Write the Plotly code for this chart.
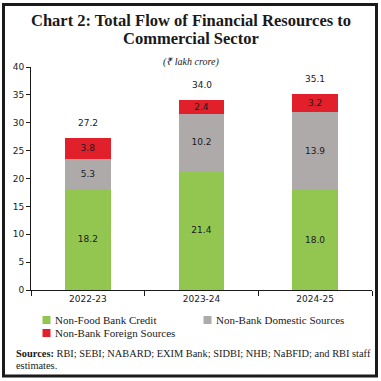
import plotly.graph_objects as go

categories = ["2022-23", "2023-24", "2024-25"]
non_food_bank_credit = [18.2, 21.4, 18.0]
non_bank_domestic = [5.3, 10.2, 13.9]
non_bank_foreign = [3.8, 2.4, 3.2]
totals = [27.2, 34.0, 35.1]
y_ticks = [0, 5, 10, 15, 20, 25, 30, 35, 40]

series_names = ["Non-Food Bank Credit", "Non-Bank Domestic Sources", "Non-Bank Foreign Sources"]
series_values = [non_food_bank_credit, non_bank_domestic, non_bank_foreign]
series_colors = ["#92C650", "#AEAAAA", "#E2202B"]

W, H = 381, 381
ML, MR, MT, MB = 31, 9, 67, 91
PW, PH = W - ML - MR, H - MT - MB

fig = go.Figure()
for name, vals, col in zip(series_names, series_values, series_colors):
    fig.add_trace(go.Bar(
        x=categories, y=vals, name=name,
        marker=dict(color=col, line=dict(width=0)),
        text=[f"{v:.1f}" for v in vals], textposition="inside",
        insidetextanchor="middle", constraintext="none",
        textfont=dict(family="DejaVu Sans", size=9, color="#1a1a1a"),
        width=0.4, showlegend=False,
    ))

for c, t in zip(categories, totals):
    fig.add_annotation(x=c, y=t, text=f"{t:.1f}", showarrow=False,
                       yanchor="bottom", yshift=8,
                       font=dict(family="DejaVu Sans", size=9, color="#1a1a1a"))

def px_x(p):
    return (p - ML) / PW

def px_y(p):
    return (H - MB - p) / PH

# outer frame
fig.add_shape(type="rect", xref="paper", yref="paper",
              x0=px_x(3.5), x1=px_x(376.5), y0=px_y(376), y1=px_y(4.5),
              line=dict(color="#1a1a1a", width=3), layer="above")

# manual legend (keys)
legend_pos = [(42.5, 320), (203.5, 320), (42.5, 333)]
for (lx, ly), name, col in zip(legend_pos, series_names, series_colors):
    fig.add_shape(type="rect", xref="paper", yref="paper",
                  x0=px_x(lx), x1=px_x(lx + 8), y0=px_y(ly + 4), y1=px_y(ly - 4),
                  fillcolor=col, line=dict(width=0))
    fig.add_annotation(xref="paper", yref="paper", x=px_x(lx + 10.5), y=px_y(ly),
                       text=name, showarrow=False, xanchor="left", yanchor="middle",
                       font=dict(family="Liberation Serif", size=11, color="#1a1a1a"))

fig.add_annotation(xref="paper", yref="paper", x=px_x(W / 2), y=px_y(20),
                   text="<b>Chart 2: Total Flow of Financial Resources to</b>",
                   showarrow=False, xanchor="center", yanchor="middle",
                   font=dict(family="Liberation Serif", size=16.5, color="#1a1a1a"))
fig.add_annotation(xref="paper", yref="paper", x=px_x(W / 2), y=px_y(38),
                   text="<b>Commercial Sector</b>",
                   showarrow=False, xanchor="center", yanchor="middle",
                   font=dict(family="Liberation Serif", size=16.5, color="#1a1a1a"))
fig.add_annotation(xref="paper", yref="paper", x=px_x(W / 2), y=px_y(62),
                   text="<i>(₹ lakh crore)</i>",
                   showarrow=False, xanchor="center", yanchor="middle",
                   font=dict(family="Liberation Serif", size=10, color="#1a1a1a"))
fig.add_annotation(xref="paper", yref="paper", x=px_x(14), y=px_y(353),
                   text="<b>Sources:</b> RBI; SEBI; NABARD; EXIM Bank; SIDBI; NHB; NaBFID; and RBI staff",
                   showarrow=False, xanchor="left", yanchor="middle", align="left",
                   font=dict(family="Liberation Serif", size=10.4, color="#1a1a1a"))
fig.add_annotation(xref="paper", yref="paper", x=px_x(14), y=px_y(365),
                   text="estimates.",
                   showarrow=False, xanchor="left", yanchor="middle", align="left",
                   font=dict(family="Liberation Serif", size=10.4, color="#1a1a1a"))

fig.update_layout(
    width=W, height=H,
    margin=dict(l=ML, r=MR, t=MT, b=MB),
    barmode="stack",
    plot_bgcolor="white", paper_bgcolor="white",
    showlegend=False,
    xaxis=dict(showline=True, linecolor="#1a1a1a", linewidth=1,
               ticks="outside", tickson="boundaries", ticklen=5, tickcolor="#1a1a1a",
               tickfont=dict(family="DejaVu Sans", size=9, color="#1a1a1a"),
               showgrid=False),
    yaxis=dict(range=[0, 40], tickvals=y_ticks, showline=True, linecolor="#1a1a1a",
               linewidth=1, ticks="outside", ticklen=4, tickcolor="#1a1a1a",
               tickfont=dict(family="DejaVu Sans", size=9, color="#1a1a1a"),
               showgrid=False, zeroline=False),
)

fig.write_html("out.html", config={"displayModeBar": False},
               post_script="document.body.style.margin='0';document.body.style.overflow='hidden';")
